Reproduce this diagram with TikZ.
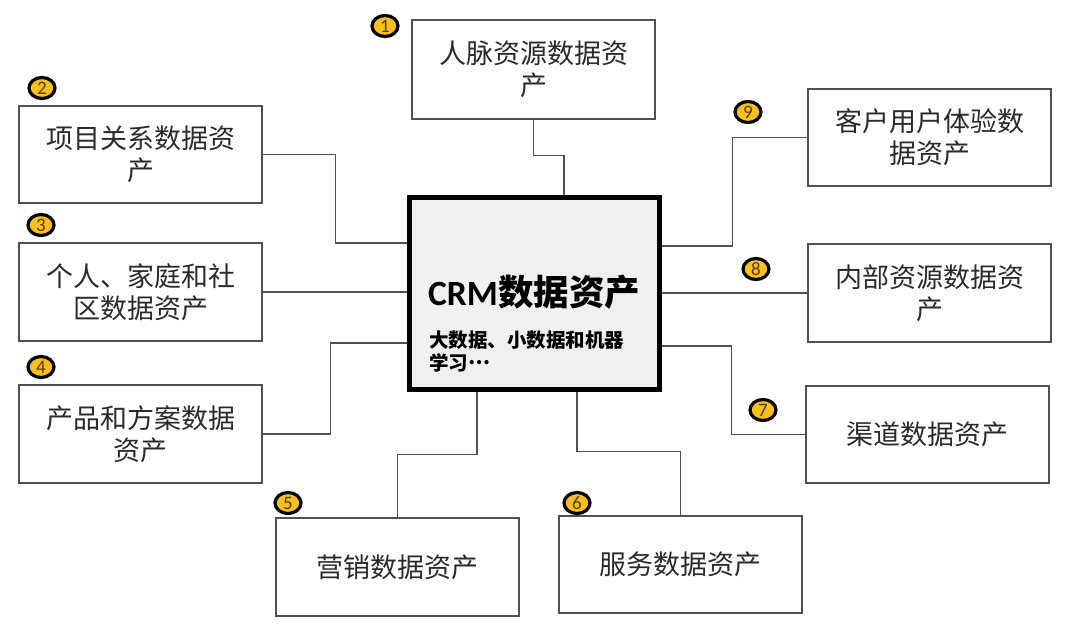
\documentclass[tikz,border=0pt]{standalone}
\usepackage{fontspec}
\setmainfont{Noto Sans CJK SC}
\newfontfamily\numfont{Carlito}
\usetikzlibrary{shapes.geometric,backgrounds}
\definecolor{boxline}{HTML}{505050}
\definecolor{connline}{HTML}{505050}
\definecolor{txt}{HTML}{2A2A2A}
\definecolor{gold}{HTML}{F7C01E}
\definecolor{numtxt}{HTML}{5A3A05}
\definecolor{centerfill}{HTML}{F0F0F0}
\tikzset{
  assetbox/.style={draw=boxline, line width=1.3pt, fill=white, minimum width=243pt,
    minimum height=97pt, align=center, text=txt, inner sep=0pt,
    font=\fontsize{27}{32}\selectfont},
  conn/.style={draw=connline, line width=1.4pt},
  badge/.style={ellipse, draw=black, line width=3.2pt, fill=gold, minimum width=26pt,
    minimum height=21pt, inner sep=0pt, text=numtxt, font=\numfont\fontsize{19}{19}\selectfont},
  centerbox/.style={draw=black, line width=4.6pt, fill=centerfill, minimum width=250.5pt,
    minimum height=192.5pt, inner sep=0pt},
  centertext/.style={anchor=west, inner sep=0pt, text=black}
}
\begin{document}
\begin{tikzpicture}[x=1pt,y=-1pt]
\useasboundingbox (0,0) rectangle (1075,633);
% centre box
\node[centerbox] (c) at (534.5,293.5) {};
\node[centertext, font=\fontsize{35.5}{40}\selectfont\bfseries] (ct) at (428,292)
  {{\numfont\bfseries CRM}数据资产};
\node[centertext, font=\fontsize{19.5}{22}\selectfont\bfseries] (cs1) at (429,340)
  {大数据、小数据和机器};
\node[centertext, font=\fontsize{19.5}{22}\selectfont\bfseries] (cs2) at (429,363)
  {学习\raisebox{0.3em}[0pt][0pt]{…}};
% boxes
\node[assetbox, minimum height=99pt] (b1) at (533.5,69.5) {人脉资源数据资\\产};
\node[assetbox] (b2) at (140.5,154.5) {项目关系数据资\\产};
\node[assetbox, minimum height=98pt] (b3) at (140.5,292) {个人、家庭和社\\区数据资产};
\node[assetbox, minimum height=98pt] (b4) at (140.5,434) {产品和方案数据\\资产};
\node[assetbox, minimum height=98pt] (b5) at (397.5,567) {营销数据资产};
\node[assetbox] (b6) at (680.5,564.5) {服务数据资产};
\node[assetbox] (b7) at (927.5,434.5) {渠道数据资产};
\node[assetbox, minimum height=98pt] (b8) at (929.5,293) {内部资源数据资\\产};
\node[assetbox] (b9) at (929.5,137.5) {客户用户体验数\\据资产};
% badges
\node[badge] (n1) at (385,26) {1};
\node[badge] (n2) at (42,88) {2};
\node[badge] (n3) at (41,225) {3};
\node[badge] (n4) at (41,367) {4};
\node[badge] (n5) at (288,503) {5};
\node[badge] (n6) at (577,503) {6};
\node[badge] (n7) at (763,410) {7};
\node[badge] (n8) at (756,269) {8};
\node[badge] (n9) at (748,112) {9};
% connectors
\begin{scope}[on background layer]
\draw[conn] (b1.south) -- ++(0,36) -| ([xshift=29.5pt]c.north);
\draw[conn] (b2.east) -- ++(73,0) |- ([yshift=50.5pt]c.west);
\draw[conn] (b3.east) -- (b3.east -| c.west);
\draw[conn] (b4.east) -- ++(68,0) |- ([yshift=-49.5pt]c.west);
\draw[conn] (b5.north) -- ++(0,-63) -| ([xshift=-57.5pt]c.south);
\draw[conn] (b6.north) -- ++(0,-64) -| ([xshift=42.5pt]c.south);
\draw[conn] (b7.west) -- ++(-74,0) |- ([yshift=-52.5pt]c.east);
\draw[conn] (b8.west) -- (b8.west -| c.east);
\draw[conn] (b9.west) -- ++(-75,0) |- ([yshift=47.5pt]c.east);
\end{scope}
\end{tikzpicture}
\end{document}
